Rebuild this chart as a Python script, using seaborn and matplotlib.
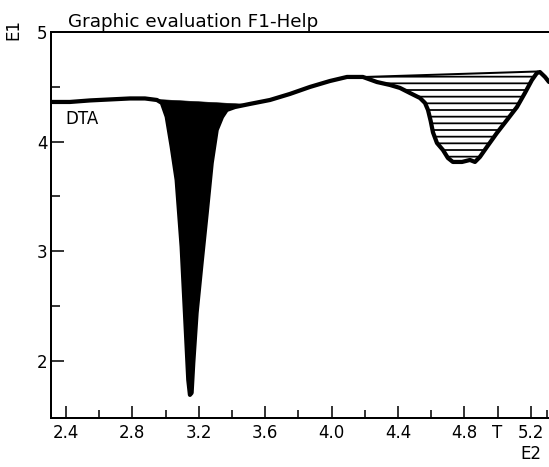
import numpy as np
import matplotlib
matplotlib.use("Agg")
import matplotlib.pyplot as plt
import seaborn as sns
import pandas as pd

# ---- data ----
temp = [2.310, 2.424, 2.545, 2.665, 2.786, 2.876, 2.948, 2.978, 3.007, 3.037,
        3.067, 3.097, 3.117, 3.137, 3.147, 3.157, 3.167, 3.187, 3.217, 3.248,
        3.278, 3.308, 3.340, 3.368, 3.418, 3.508, 3.629, 3.749, 3.870, 3.990,
        4.093, 4.189, 4.273, 4.352, 4.412, 4.472, 4.533, 4.563, 4.581, 4.597,
        4.611, 4.635, 4.671, 4.701, 4.731, 4.786, 4.834, 4.864, 4.894, 4.936,
        4.996, 5.057, 5.117, 5.165, 5.207, 5.237, 5.255, 5.286, 5.310]
dta = [4.362, 4.362, 4.376, 4.385, 4.394, 4.394, 4.380, 4.353, 4.228, 3.955,
       3.651, 3.043, 2.438, 1.828, 1.691, 1.709, 1.983, 2.438, 2.894, 3.350,
       3.806, 4.107, 4.225, 4.289, 4.316, 4.344, 4.380, 4.435, 4.499, 4.553,
       4.590, 4.590, 4.544, 4.517, 4.490, 4.444, 4.398, 4.353, 4.289, 4.190,
       4.085, 3.988, 3.924, 3.851, 3.815, 3.815, 3.833, 3.815, 3.861, 3.952,
       4.079, 4.198, 4.316, 4.444, 4.562, 4.626, 4.635, 4.590, 4.544]

# peak baselines (start, end)
peak1_x = [2.948, 3.496]
peak1_y = [4.389, 4.344]
peak2_x = [4.201, 5.243]
peak2_y = [4.590, 4.640]

x_ticks = [2.4, 2.8, 3.2, 3.6, 4.0, 4.4, 4.8, 5.0, 5.2]
x_labels = ["2.4", "2.8", "3.2", "3.6", "4.0", "4.4", "4.8", "T", "5.2"]
x_minor = [2.6, 3.0, 3.4, 3.8, 4.2, 4.6, 5.3]
y_ticks = [2, 3, 4, 5]
y_labels = ["2", "3", "4", "5"]
y_minor = [2.5, 3.5, 4.5]

title = "Graphic evaluation F1-Help"

# ---- plotting ----
sns.set_theme(style="ticks")
plt.rcParams["font.family"] = ["DejaVu Sans"]
plt.rcParams["hatch.linewidth"] = 1.6

DPI = 80
fig = plt.figure(figsize=(549 / DPI, 467 / DPI), dpi=DPI, facecolor="white")
ax = fig.add_axes([51 / 549, 1 - 418 / 467, 1 - 51 / 549, (418 - 32) / 467])
ax.set_facecolor("white")

df = pd.DataFrame({"T": temp, "DTA": dta})
x = np.array(temp)
y = np.array(dta)

# black filled peak
m1 = (x >= peak1_x[0]) & (x <= peak1_x[1])
xs1 = np.concatenate([[peak1_x[0]], x[m1], [peak1_x[1]]])
ys1 = np.concatenate([[peak1_y[0]], y[m1], [peak1_y[1]]])
base1 = np.interp(xs1, peak1_x, peak1_y)
ax.fill_between(xs1, ys1, base1, color="black", linewidth=0.5, zorder=2)

# hatched peak
m2 = (x >= peak2_x[0]) & (x <= peak2_x[1])
xs2 = np.concatenate([[peak2_x[0]], x[m2], [peak2_x[1]]])
ys2 = np.concatenate([[np.interp(peak2_x[0], x, y)], y[m2], [np.interp(peak2_x[1], x, y)]])
base2 = np.interp(xs2, peak2_x, peak2_y)
ax.fill_between(xs2, ys2, base2, facecolor="none", edgecolor="black",
                hatch="--", linewidth=0, zorder=2)
ax.plot(peak2_x, peak2_y, color="black", lw=1.8, zorder=3)

sns.lineplot(data=df, x="T", y="DTA", sort=False, color="black", lw=3.8,
             ax=ax, zorder=4)

ax.set_xlim(2.31, 5.31)
ax.set_ylim(1.48, 5.0)
ax.set_xlabel("")
ax.set_ylabel("")

ax.set_xticks(x_ticks)
ax.set_xticklabels(x_labels)
ax.set_xticks(x_minor, minor=True)
ax.set_yticks(y_ticks)
ax.set_yticklabels(y_labels)
ax.set_yticks(y_minor, minor=True)

ax.tick_params(axis="both", which="both", direction="in", color="black",
               labelcolor="black", labelsize=15, width=1.4)
ax.tick_params(axis="x", which="major", length=11, pad=5)
ax.tick_params(axis="x", which="minor", length=7)
ax.tick_params(axis="y", which="major", length=12, pad=3)
ax.tick_params(axis="y", which="minor", length=8)

for side in ["left", "bottom", "top"]:
    ax.spines[side].set_visible(True)
    ax.spines[side].set_color("black")
    ax.spines[side].set_linewidth(1.8)
ax.spines["right"].set_visible(False)

ax.text(2.394, 4.207, "DTA", ha="left", va="center", fontsize=15, color="black")

fig.text(68 / 549, 1 - 27 / 467, title, ha="left", va="baseline",
         fontsize=16.5, color="black")
fig.text(13 / 549, 1 - 30 / 467, "E1", rotation=90, ha="center", va="center",
         fontsize=15, color="black")
fig.text(531 / 549, 1 - 454 / 467, "E2", ha="center", va="center",
         fontsize=15, color="black")

fig.savefig("out.png", dpi=DPI, facecolor="white")
